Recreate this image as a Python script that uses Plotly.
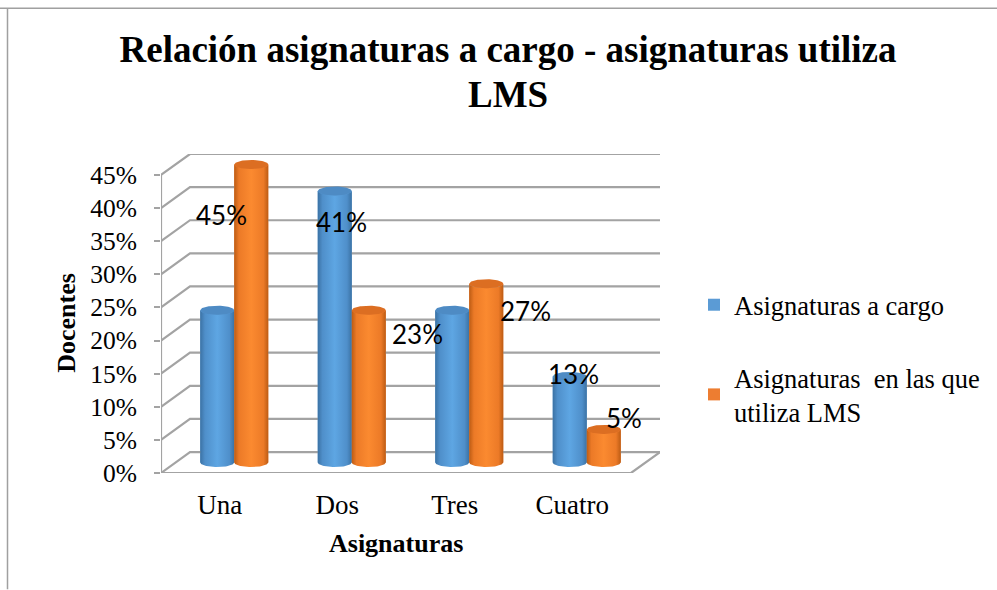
import numpy as np
import plotly.graph_objects as go

categories = ["Una", "Dos", "Tres", "Cuatro"]
series_names = ["Asignaturas a cargo", "Asignaturas  en las que<br>utiliza LMS"]
cargo = [23, 41, 23, 13]
lms = [45, 23, 27, 5]
y_ticks = [0, 5, 10, 15, 20, 25, 30, 35, 40, 45]

# Labels as the reference shows them: (series, category index, pixel offsets)
labels_shown = [(1, 0, -30, -51), (0, 1, 7, -31), (1, 1, 49, -24),
                (1, 2, 39, -27), (0, 3, 4, 2), (1, 3, 20, 11)]

SERIF = "Liberation Serif"
GRID = "#a3a3a3"
W, H = 997, 590
L, R, T, B = 161, 660, 154, 473.5
unit_x = 117.5            # px per category
unit_y = 298.5 / 45       # px per percent
depth_x = (R - 631) / unit_x
depth_y = 21 / unit_y
bar_w = 34 / unit_x
ell_h = 4.5 / unit_y
xmax = (R - L) / unit_x
ymax = (B - T) / unit_y

palette = [
    dict(flat="#5B9BD5", top="#4E8BC4",
         grad=[[0, "#3b72a4"], [0.14, "#4f8fca"], [0.5, "#5ea6e3"], [0.86, "#4f8fca"], [1, "#3b72a4"]]),
    dict(flat="#ED7D31", top="#DC6E22",
         grad=[[0, "#bd5c14"], [0.14, "#ec7a27"], [0.5, "#fb8a30"], [0.86, "#ec7a27"], [1, "#bd5c14"]]),
]

fig = go.Figure()
values = [cargo, lms]
centers = [[i + 0.5 + depth_x / 2 + (s - 0.5) * bar_w for i in range(4)] for s in range(2)]

# Real bars: they carry the data and the legend entries
for s, vals in enumerate(values):
    fig.add_trace(go.Bar(
        x=centers[s], y=vals, base=depth_y / 2, width=bar_w,
        name=series_names[s], legendgroup=f"g{s}",
        marker=dict(color=palette[s]["flat"], line=dict(width=0)),
        hovertemplate="%{y}%<extra></extra>",
    ))

# Perspective walls and floor
gx, gy = [], []
for t in y_ticks:
    gx += [0, depth_x, xmax, None]
    gy += [t, t + depth_y, t + depth_y, None]
gx += [0, 0, None, 0, xmax - depth_x, xmax]
gy += [0, y_ticks[-1], None, 0, 0, depth_y]
fig.add_trace(go.Scatter(x=gx, y=gy, mode="lines", line=dict(color=GRID, width=2.2),
                         showlegend=False, hoverinfo="skip", cliponaxis=False))

# Cylinder shading over the bars, one body and one cap per value
theta = np.linspace(0, np.pi, 40)
for s, vals in enumerate(values):
    for cx, v in zip(centers[s], vals):
        y0 = depth_y / 2
        y1 = y0 + v
        ex = np.cos(theta) * bar_w / 2
        ey = np.sin(theta) * ell_h
        bx = np.concatenate([cx - ex, cx + ex])
        by = np.concatenate([y0 - ey, y1 - ey])
        fig.add_trace(go.Scatter(
            x=bx, y=by, mode="lines", line=dict(width=0), fill="toself",
            fillgradient=dict(type="horizontal", colorscale=palette[s]["grad"]),
            showlegend=False, hoverinfo="skip", cliponaxis=False))
        cap_x = np.concatenate([cx + ex, cx - ex])
        cap_y = np.concatenate([y1 + ey, y1 - ey])
        fig.add_trace(go.Scatter(
            x=cap_x, y=cap_y, mode="lines", line=dict(width=0), fill="toself",
            fillcolor=palette[s]["top"], showlegend=False, hoverinfo="skip", cliponaxis=False))

annotations = []
for s, c, dx, dy in labels_shown:
    v = values[s][c]
    annotations.append(dict(
        x=centers[s][c], y=v + depth_y / 2, xref="x", yref="y", text=f"{v}%",
        showarrow=False, xshift=dx, yshift=dy,
        font=dict(family="Lato", size=26, color="#000000")))
annotations.append(dict(x=(396 - L) / unit_x, y=0, xref="x", yref="paper", yanchor="middle", yshift=-70,
                        text="<b>Asignaturas</b>", showarrow=False,
                        font=dict(family=SERIF, size=26, color="#000000")))
annotations.append(dict(x=0, y=(B - 323) / (B - T), xref="paper", yref="paper", xanchor="center",
                        yanchor="middle", xshift=-94,
                        text="<b>Docentes</b>", textangle=-90, showarrow=False,
                        font=dict(family=SERIF, size=26, color="#000000")))
annotations.append(dict(x=(508 - L) / (R - L), y=(B - 94) / (B - T), xref="paper", yref="paper",
                        xanchor="center", yanchor="middle",
                        text="<b>LMS</b>", showarrow=False,
                        font=dict(family=SERIF, size=37, color="#000000")))

fig.update_layout(
    width=W, height=H, autosize=False,
    margin=dict(l=L, r=W - R, t=T, b=H - B, pad=0),
    paper_bgcolor="white", plot_bgcolor="white",
    barmode="overlay", hovermode="closest",
    title=dict(text="<b>Relación asignaturas a cargo - asignaturas utiliza</b>",
               x=508 / W, xanchor="center", y=1 - 49 / H, yanchor="middle",
               font=dict(family=SERIF, size=37, color="#000000")),
    xaxis=dict(range=[0, xmax], tickmode="array", tickvals=[i + 0.5 for i in range(4)],
               ticktext=categories, showgrid=False, zeroline=False, showline=False, ticks="",
               ticklabelstandoff=13, tickfont=dict(family=SERIF, size=27, color="#000000")),
    yaxis=dict(range=[0, ymax], tickmode="array", tickvals=y_ticks,
               ticktext=[f"{t}%" for t in y_ticks], showgrid=False, zeroline=False, showline=False,
               ticks="outside", ticklen=6, tickwidth=2, tickcolor=GRID, ticklabelstandoff=12,
               tickfont=dict(family=SERIF, size=25.5, color="#000000")),
    legend=dict(x=694 / W, xanchor="left", y=1 - 281 / H, yanchor="top", yref="container", xref="container",
                tracegroupgap=35, font=dict(family=SERIF, size=26.5, color="#000000"),
                bgcolor="rgba(0,0,0,0)"),
    annotations=annotations,
    shapes=[
        dict(type="line", xref="paper", yref="paper", x0=-L / (R - L), x1=(W - L) / (R - L),
             y0=(B - 8) / (B - T), y1=(B - 8) / (B - T), line=dict(color="#a0a0a0", width=1.5)),
        dict(type="line", xref="paper", yref="paper", x0=(7.5 - L) / (R - L), x1=(7.5 - L) / (R - L),
             y0=(B - 8) / (B - T), y1=(B - H) / (B - T), line=dict(color="#a0a0a0", width=1.5)),
    ],
)

fig.write_html("out.html", config={"displayModeBar": False},
               post_script="document.body.style.margin='0';document.body.style.overflow='hidden';")
